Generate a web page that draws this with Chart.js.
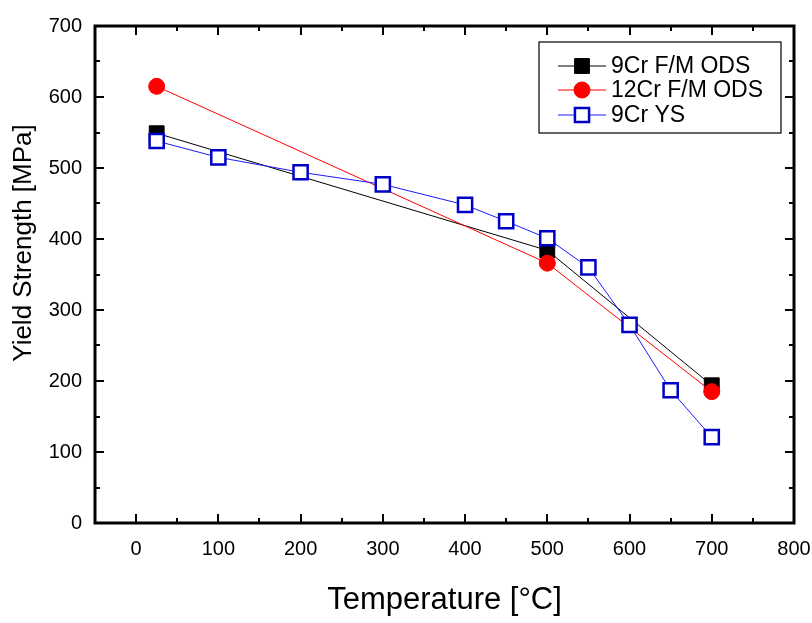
<!DOCTYPE html>
<html>
<head>
<meta charset="utf-8">
<script src="https://cdn.jsdelivr.net/npm/chart.js@4/dist/chart.umd.min.js"></script>
<style>
  html, body { margin: 0; padding: 0; background: #fff; }
  #wrap { width: 812px; height: 623px; }
</style>
</head>
<body>
<div id="wrap"><canvas id="c" width="812" height="623"></canvas></div>
<script>
// ---- data ----
const seriesNames = ['9Cr F/M ODS', '12Cr F/M ODS', '9Cr YS'];
const tempBlack = [25, 500, 700];
const ysBlack   = [549, 384, 194];
const tempRed   = [25, 500, 700];
const ysRed     = [615, 366, 185];
const tempBlue  = [25, 100, 200, 300, 400, 450, 500, 550, 600, 650, 700];
const ysBlue    = [538, 515, 494, 477, 448, 425, 401, 360, 279, 187, 121];

const xRange = [-50, 800];
const yRange = [0, 700];
const xTickValues  = [0, 100, 200, 300, 400, 500, 600, 700, 800];
const xMinorValues = [50, 150, 250, 350, 450, 550, 650, 750];
const yTickValues  = [0, 100, 200, 300, 400, 500, 600, 700];
const yMinorValues = [50, 150, 250, 350, 450, 550, 650];

const xTitle = 'Temperature [°C]';
const yTitle = 'Yield Strength [MPa]';

const FONT = "'Liberation Sans', Arial, Helvetica, sans-serif";
Chart.defaults.font.family = FONT;
Chart.defaults.color = '#000';

function pts(xs, ys) { return xs.map((x, i) => ({ x: x, y: ys[i] })); }

const styles = [
  { line: '#000000', border: '#000000', fill: '#000000', style: 'rect', radius: 10.5, bw: 1 },
  { line: '#ff0000', border: '#ff0000', fill: '#ff0000', style: 'circle', radius: 8, bw: 1 },
  { line: '#1a1aff', border: '#0000c8', fill: '#ffffff', style: 'rect', radius: 10, bw: 2.5 }
];

const datasets = [
  { label: seriesNames[0], data: pts(tempBlack, ysBlack), order: 3 },
  { label: seriesNames[1], data: pts(tempRed, ysRed), order: 2 },
  { label: seriesNames[2], data: pts(tempBlue, ysBlue), order: 1 }
].map((d, i) => Object.assign(d, {
  showLine: true,
  borderColor: styles[i].line,
  borderWidth: 1,
  pointStyle: styles[i].style,
  pointRadius: styles[i].radius,
  pointHoverRadius: styles[i].radius,
  pointBackgroundColor: styles[i].fill,
  pointBorderColor: styles[i].border,
  pointBorderWidth: styles[i].bw,
  tension: 0,
  fill: false
}));

function drawMarker(ctx, s, x, y) {
  ctx.save();
  ctx.fillStyle = s.fill;
  ctx.strokeStyle = s.border;
  ctx.lineWidth = s.bw;
  ctx.beginPath();
  if (s.style === 'circle') {
    ctx.arc(x, y, s.radius, 0, Math.PI * 2);
  } else {
    const h = Math.SQRT1_2 * s.radius;
    ctx.rect(x - h, y - h, 2 * h, 2 * h);
  }
  ctx.fill();
  ctx.stroke();
  ctx.restore();
}

const framePlugin = {
  id: 'frame',
  afterDraw(chart) {
    const ctx = chart.ctx;
    const xs = chart.scales.x, ys = chart.scales.y;
    const L = xs.getPixelForValue(xRange[0]), R = xs.getPixelForValue(xRange[1]);
    const T = ys.getPixelForValue(yRange[1]), B = ys.getPixelForValue(yRange[0]);
    ctx.save();
    ctx.strokeStyle = '#000';
    ctx.lineWidth = 3;
    ctx.strokeRect(L, T, R - L, B - T);
    ctx.lineWidth = 2;
    ctx.beginPath();
    const tick = (vals, len) => {
      vals.forEach(v => {
        const px = Math.round(xs.getPixelForValue(v));
        ctx.moveTo(px, B); ctx.lineTo(px, B - len);
        ctx.moveTo(px, T); ctx.lineTo(px, T + len);
      });
    };
    const tickY = (vals, len) => {
      vals.forEach(v => {
        const py = Math.round(ys.getPixelForValue(v));
        ctx.moveTo(L, py); ctx.lineTo(L + len, py);
        ctx.moveTo(R, py); ctx.lineTo(R - len, py);
      });
    };
    tick(xTickValues, 9); tick(xMinorValues, 5);
    tickY(yTickValues, 9); tickY(yMinorValues, 5);
    ctx.stroke();

    // y axis title
    ctx.save();
    ctx.translate(24, 243);
    ctx.rotate(-Math.PI / 2);
    ctx.font = '26px ' + FONT;
    ctx.fillStyle = '#000';
    ctx.textAlign = 'center';
    ctx.textBaseline = 'middle';
    ctx.fillText(yTitle, 0, 0);
    ctx.restore();

    // legend box
    const bx = 539, by = 42, bw = 242, bh = 91;
    ctx.lineWidth = 1.2;
    ctx.strokeStyle = '#000';
    ctx.fillStyle = '#fff';
    ctx.fillRect(bx, by, bw, bh);
    ctx.strokeRect(bx, by, bw, bh);
    const rows = [66, 90, 115];
    ctx.font = '23px ' + FONT;
    ctx.textBaseline = 'middle';
    ctx.textAlign = 'left';
    seriesNames.forEach((name, i) => {
      const s = styles[i];
      ctx.strokeStyle = s.line;
      ctx.lineWidth = 1;
      ctx.beginPath();
      ctx.moveTo(558, rows[i]); ctx.lineTo(606, rows[i]);
      ctx.stroke();
      drawMarker(ctx, s, 582, rows[i]);
      ctx.fillStyle = '#000';
      ctx.fillText(name, 611, rows[i] + 1);
    });
    ctx.restore();
  }
};

new Chart(document.getElementById('c'), {
  type: 'scatter',
  data: { datasets: datasets },
  options: {
    responsive: false,
    animation: false,
    layout: { padding: { top: 26, right: 18, left: 0, bottom: 0 } },
    plugins: { legend: { display: false }, tooltip: { enabled: false } },
    scales: {
      x: {
        type: 'linear',
        min: xRange[0], max: xRange[1],
        afterBuildTicks(s) { s.ticks = xTickValues.map(v => ({ value: v })); },
        afterFit(s) { s.height = 100; s.paddingLeft = 0; s.paddingRight = 0; },
        grid: { display: false, drawTicks: false },
        border: { display: false },
        ticks: { font: { size: 20 }, padding: 14, color: '#000', maxRotation: 0 },
        title: { display: true, text: xTitle, font: { size: 31 }, padding: { top: 7 }, color: '#000' }
      },
      y: {
        type: 'linear',
        min: yRange[0], max: yRange[1],
        afterBuildTicks(s) { s.ticks = yTickValues.map(v => ({ value: v })); },
        afterFit(s) { s.width = 95; s.paddingTop = 0; s.paddingBottom = 0; },
        grid: { display: false, drawTicks: false },
        border: { display: false },
        ticks: { font: { size: 20 }, padding: 13, color: '#000' },
        title: { display: false }
      }
    }
  },
  plugins: [framePlugin]
});
</script>
</body>
</html>
